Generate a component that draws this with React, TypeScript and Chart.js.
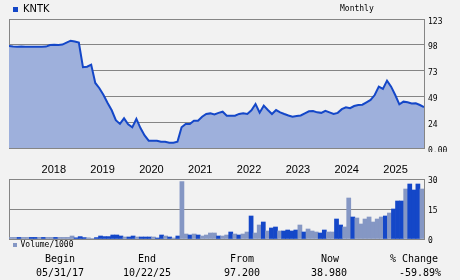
import React, { useEffect, useRef } from "react";
import { Chart, registerables } from "chart.js";

Chart.register(...registerables);

const START_YEAR = 2017;
const START_MONTH = 5;

const price = [
  97.2, 96.8, 96.5, 96.8, 96.6, 96.5, 96.5, 96.5, 96.6, 96.7,
  98.2, 98.4, 98.3, 98.6, 100.5, 102.3, 101.5, 100.5, 77.0, 77.5,
  79.5, 62.0, 57.0, 50.5, 43.0, 36.0, 26.5, 23.0, 28.3, 22.6,
  19.7, 27.7, 19.0, 12.0, 7.0, 7.0, 7.0, 6.0, 6.0, 5.1,
  5.1, 6.0, 19.7, 22.9, 22.9, 26.0, 26.0, 29.8, 32.5, 33.0,
  32.0, 33.5, 34.6, 30.8, 30.8, 30.8, 32.5, 33.1, 32.4, 36.0,
  42.0, 33.7, 40.4, 36.2, 32.4, 36.2, 34.0, 32.4, 31.0, 29.9,
  30.5, 31.0, 33.1, 35.0, 35.3, 34.0, 33.5, 35.5, 34.0, 32.4,
  33.5, 37.0, 38.8, 37.9, 40.0, 41.0, 41.3, 43.6, 45.8, 50.5,
  58.5, 56.3, 64.2, 58.5, 50.5, 41.6, 44.2, 43.6, 42.5, 42.6,
  41.0, 38.98,
];

const volume = [
  0.8, 0.8, 0.8, 0.8, 0.8, 0.8, 0.8, 0.8, 0.8, 0.8,
  0.8, 0.8, 0.8, 0.8, 0.8, 1.5, 0.6, 1.2, 0.7, 0.6,
  0.3, 0.7, 1.5, 1.2, 1.2, 2.0, 2.0, 1.5, 1.0, 1.0,
  1.5, 1.0, 1.0, 1.0, 1.0, 1.0, 0.5, 2.0, 1.5, 1.0,
  0.5, 1.5, 28.7, 2.5, 2.0, 2.5, 2.0, 1.5, 2.0, 3.0,
  3.0, 1.5, 1.5, 2.0, 3.5, 2.5, 2.0, 2.5, 3.5, 11.5,
  3.0, 7.0, 8.5, 4.0, 5.5, 6.0, 4.0, 4.0, 4.5, 4.0,
  4.5, 7.0, 3.5, 5.0, 4.0, 3.5, 3.0, 4.5, 3.5, 3.5,
  10.0, 7.0, 6.0, 20.5, 11.0, 10.5, 7.5, 10.0, 11.0, 8.5,
  10.0, 11.0, 11.5, 13.0, 15.0, 19.0, 19.0, 25.0, 27.5, 24.5,
  27.5, 25.0,
];

// D = dark bar, L = light bar
const volumeTone = [
  "L", "L", "D", "L", "L", "D", "D", "L", "D", "L",
  "L", "D", "L", "L", "L", "L", "D", "D", "D", "L",
  "L", "D", "D", "D", "D", "D", "D", "D", "L", "D",
  "D", "L", "D", "D", "D", "L", "D", "D", "L", "D",
  "L", "D", "L", "L", "D", "L", "D", "L", "L", "L",
  "L", "D", "L", "L", "D", "L", "D", "L", "L", "D",
  "L", "L", "D", "L", "D", "D", "L", "D", "D", "D",
  "D", "L", "D", "L", "L", "L", "D", "D", "L", "L",
  "D", "D", "L", "L", "D", "L", "L", "L", "L", "L",
  "L", "L", "D", "L", "D", "D", "D", "L", "D", "D",
  "D", "L",
];

const priceTicks = [0, 24.6, 49.2, 73.8, 98.4, 123];
const priceTickLabels = ["0.00", "24", "49", "73", "98", "123"];
const volumeTicks = [0, 15, 30];
const volumeTickLabels = ["0", "15", "30"];
const yearTicks = [8, 20, 32, 44, 56, 68, 80, 92];
const yearLabels = ["2018", "2019", "2020", "2021", "2022", "2023", "2024", "2025"];

const statLabels = ["Begin", "End", "From", "Now", "% Change"];
const statValues = ["05/31/17", "10/22/25", "97.200", "38.980", "-59.89%"];

const monthLabels = price.map((_, i) => {
  const m = START_MONTH - 1 + i;
  return `${START_YEAR + Math.floor(m / 12)}-${String((m % 12) + 1).padStart(2, "0")}`;
});

const BG = "#f2f2f2";
const GRID = "#858585";
const LINE = "#1447c8";
const FILL = "#9eb0dc";
const DARK = "#1447c8";
const LIGHT = "#8597c4";
const MONO = "'DejaVu Sans Mono', monospace";
const SANS = "'Liberation Sans', Arial, sans-serif";
const NARROW = "'Liberation Sans Narrow', 'DejaVu Sans Condensed', 'Liberation Sans', sans-serif";

const leftBorder = {
  id: "leftBorder",
  beforeDatasetsDraw(chart: any) {
    const { ctx, chartArea } = chart;
    ctx.save();
    ctx.strokeStyle = GRID;
    ctx.lineWidth = 1;
    ctx.beginPath();
    const x = Math.round(chartArea.left) + 0.5;
    ctx.moveTo(x, chartArea.top);
    ctx.lineTo(x, chartArea.bottom);
    ctx.stroke();
    ctx.restore();
  },
};

export default function App() {
  const topRef = useRef<HTMLCanvasElement>(null);
  const volRef = useRef<HTMLCanvasElement>(null);

  useEffect(() => {
    const top = new Chart(topRef.current as HTMLCanvasElement, {
      type: "line",
      data: {
        labels: monthLabels,
        datasets: [
          {
            data: price.map((v, i) => ({ x: i, y: v })),
            borderColor: LINE,
            backgroundColor: FILL,
            borderWidth: 2,
            fill: "origin",
            pointRadius: 0,
            tension: 0,
          },
        ],
      },
      options: {
        responsive: false,
        animation: false,
        events: [],
        layout: { padding: { left: 9, top: 19, right: 0, bottom: 12 } },
        plugins: { legend: { display: false }, tooltip: { enabled: false } },
        scales: {
          x: { type: "linear", min: 0, max: price.length - 1, display: false, offset: false },
          y: {
            position: "right",
            min: 0,
            max: 123,
            afterBuildTicks: (s: any) => {
              s.ticks = priceTicks.map((v) => ({ value: v }));
            },
            afterFit: (s: any) => {
              s.width = 36;
            },
            grid: { color: GRID, drawTicks: false, lineWidth: 1 },
            border: { display: true, color: GRID },
            ticks: {
              padding: 4,
              labelOffset: 2.5,
              color: "#000",
              font: { family: MONO, size: 8 },
              callback: (_v: any, i: number) => priceTickLabels[i],
            },
          },
        },
      },
      plugins: [leftBorder],
    } as any);

    const vol = new Chart(volRef.current as HTMLCanvasElement, {
      type: "bar",
      data: {
        labels: monthLabels,
        datasets: [
          {
            data: volume,
            backgroundColor: volumeTone.map((t) => (t === "D" ? DARK : LIGHT)),
            barPercentage: 1,
            categoryPercentage: 1,
            borderWidth: 0,
          },
        ],
      },
      options: {
        responsive: false,
        animation: false,
        events: [],
        layout: { padding: { left: 9, top: 0, right: 0, bottom: 11 } },
        plugins: { legend: { display: false }, tooltip: { enabled: false } },
        scales: {
          x: { display: false },
          xTop: {
            axis: "x",
            type: "linear",
            position: "top",
            offset: false,
            min: 0,
            max: volume.length,
            afterBuildTicks: (s: any) => {
              s.ticks = yearTicks.map((v) => ({ value: v }));
            },
            afterFit: (s: any) => {
              s.height = 27;
            },
            grid: { display: false, drawTicks: false, offset: false },
            border: { display: false },
            ticks: {
              padding: 2,
              align: "start",
              maxRotation: 0,
              autoSkip: false,
              color: "#000",
              font: { family: SANS, size: 11 },
              callback: (_v: any, i: number) => yearLabels[i],
            },
          },
          y: {
            position: "right",
            min: 0,
            max: 30,
            afterBuildTicks: (s: any) => {
              s.ticks = volumeTicks.map((v) => ({ value: v }));
            },
            afterFit: (s: any) => {
              s.width = 36;
            },
            grid: { color: GRID, drawTicks: false, lineWidth: 1 },
            border: { display: true, color: GRID },
            ticks: {
              padding: 4,
              labelOffset: 2,
              color: "#000",
              font: { family: MONO, size: 8 },
              callback: (_v: any, i: number) => volumeTickLabels[i],
            },
          },
        },
      },
      plugins: [leftBorder],
    } as any);

    return () => {
      top.destroy();
      vol.destroy();
    };
  }, []);

  const statCenters = [60, 147, 242, 330, 414];
  const valueCenters = [60, 147, 242, 329, 420];

  return (
    <div
      style={{
        position: "fixed",
        left: 0,
        top: 0,
        width: 460,
        height: 280,
        background: BG,
        overflow: "hidden",
      }}
    >
      <canvas ref={topRef} width={460} height={160} style={{ position: "absolute", left: 0, top: 0 }} />
      <canvas
        ref={volRef}
        width={460}
        height={98}
        style={{ position: "absolute", left: 0, top: 152, background: BG }}
      />
      <div style={{ position: "absolute", left: 13, top: 7, width: 5, height: 5, background: LINE }} />
      <div
        style={{
          position: "absolute",
          left: 23,
          top: 3.4,
          font: `11px ${NARROW}`,
          lineHeight: "11px",
          color: "#000",
          whiteSpace: "nowrap",
        }}
      >
        KNTK
      </div>
      <div
        style={{
          position: "absolute",
          left: 340,
          top: 5.2,
          font: `8px ${MONO}`,
          lineHeight: "8px",
          color: "#000",
          whiteSpace: "nowrap",
        }}
      >
        Monthly
      </div>
      <div style={{ position: "absolute", left: 13, top: 243, width: 4, height: 4, background: LIGHT }} />
      <div
        style={{
          position: "absolute",
          left: 20.5,
          top: 241,
          font: `8px ${MONO}`,
          lineHeight: "8px",
          color: "#000",
          whiteSpace: "nowrap",
        }}
      >
        Volume/1000
      </div>
      {statLabels.map((t, i) => (
        <div
          key={"l" + i}
          style={{
            position: "absolute",
            left: statCenters[i] - 50,
            width: 100,
            top: 254,
            textAlign: "center",
            font: `10px ${MONO}`,
            lineHeight: "10px",
            color: "#000",
            whiteSpace: "nowrap",
          }}
        >
          {t}
        </div>
      ))}
      {statValues.map((t, i) => (
        <div
          key={"v" + i}
          style={{
            position: "absolute",
            left: valueCenters[i] - 50,
            width: 100,
            top: 268,
            textAlign: "center",
            font: `10px ${MONO}`,
            lineHeight: "10px",
            color: "#000",
            whiteSpace: "nowrap",
          }}
        >
          {t}
        </div>
      ))}
    </div>
  );
}
